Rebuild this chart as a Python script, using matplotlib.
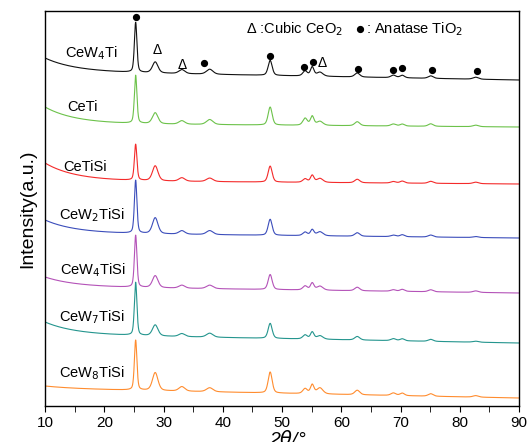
import numpy as np
import matplotlib
matplotlib.use("Agg")
import matplotlib.pyplot as plt

plt.rcParams['font.family'] = ['Liberation Sans', 'DejaVu Sans']

# 2theta grid of the scans
two_theta = np.arange(10, 90.001, 0.02)

# reflections (deg) and their widths (deg, FWHM)
peak_pos = [25.3, 28.6, 33.1, 37.8, 48.0, 53.9, 55.1, 56.4, 62.7, 68.8, 70.3, 75.1, 82.7]
peak_fwhm = [0.5, 1.1, 1.2, 1.3, 0.8, 0.9, 0.7, 1.2, 1.0, 1.0, 0.9, 1.0, 1.1]

samples = ["CeW$_4$Ti", "CeTi", "CeTiSi", "CeW$_2$TiSi", "CeW$_4$TiSi",
           "CeW$_7$TiSi", "CeW$_8$TiSi"]
colors = ["#111111", "#6cc24a", "#f42a2a", "#3b4dbb", "#b452b8",
          "#24958e", "#ff8c2e"]

# peak heights above background (a.u.) for each sample
heights = [
    [50, 11, 4, 5, 15, 5, 9, 4, 4, 2.5, 2.5, 2.5, 2],
    [48, 11, 3.5, 5, 18, 7, 9, 4, 4, 2, 2, 2.5, 1.5],
    [36, 15, 3.5, 3.5, 16, 3.5, 7, 4, 3.5, 1.5, 2, 2, 1.5],
    [53, 16, 3.5, 4, 16, 3.5, 6, 4, 3.5, 1.5, 2, 2, 1],
    [52, 12, 3, 3.5, 15, 4, 7, 4, 3.5, 1.5, 2, 2, 1.5],
    [53, 11, 3, 4, 15, 4, 7, 3.5, 3.5, 2, 2, 2, 1],
    [50, 18, 4.5, 4, 21, 5, 9, 6, 4.5, 2.5, 2.5, 2.5, 1.5],
]
# background level at 10 deg, 24 deg and 90 deg (offset traces)
bg_left = [348, 299, 243, 186, 129, 84, 20]
bg_mid = [334, 283, 226, 173, 119, 71, 16]
bg_right = [326, 279, 222, 168, 113, 63, 8]

# label positions (deg, a.u.)
label_x = [13.4, 13.7, 13.0, 12.3, 12.6, 12.3, 12.3]
label_y = [353, 299, 239, 191, 136, 89, 33]

# phase markers above the CeW4Ti trace
dot_x = [25.3, 36.9, 47.97, 53.7, 55.3, 62.8, 68.7, 70.3, 75.3, 82.9]
dot_y = [389, 343, 350, 339, 344, 337, 336, 338, 336, 335]
tri_x = [28.9, 33.1, 56.7]
tri_y = [356, 341, 343]


def trace(h, left, mid, right):
    # background: flat slope + decay at low angle
    e = np.exp(-14 / 5.0)
    s = (mid - right - e * (left - right)) / (66 - 80 * e)
    a = left - right - 80 * s
    y = right + s * (90 - two_theta) + a * np.exp(-(two_theta - 10) / 5.0)
    for p, w, hh in zip(peak_pos, peak_fwhm, h):
        g = np.exp(-4 * np.log(2) * ((two_theta - p) / w) ** 2)
        l = 1 / (1 + 4 * ((two_theta - p) / w) ** 2)
        y = y + hh * (0.6 * g + 0.4 * l)
    return y


fig = plt.figure(figsize=(5.27, 4.42), dpi=100)
ax = fig.add_axes([45 / 527, 36 / 442, 474 / 527, 395 / 442])

for i in range(len(samples)):
    ax.plot(two_theta, trace(heights[i], bg_left[i], bg_mid[i], bg_right[i]),
            color=colors[i], lw=0.8)
    ax.text(label_x[i], label_y[i], samples[i], fontsize=10.5, va='center')

ax.plot(dot_x, dot_y, 'o', color='black', ms=4.2)
for x, y in zip(tri_x, tri_y):
    ax.text(x, y, "Δ", fontsize=10, ha='center', va='center')

ax.text(0.425, 0.955, "Δ :Cubic CeO$_2$", transform=ax.transAxes,
        fontsize=10.5, va='center')
ax.plot([0.665], [0.955], 'o', color='black', ms=4.2, transform=ax.transAxes)
ax.text(0.677, 0.955, ": Anatase TiO$_2$", transform=ax.transAxes,
        fontsize=10.5, va='center')

ax.set_xlim(10, 90)
ax.set_ylim(0, 395)
ax.set_xticks(np.arange(10, 91, 10))
ax.set_xticks(np.arange(15, 90, 10), minor=True)
ax.tick_params(axis='x', which='both', direction='out', length=4, labelsize=11)
ax.set_yticks([])
ax.set_ylabel("Intensity(a.u.)", fontsize=14, labelpad=6)
for sp in ax.spines.values():
    sp.set_linewidth(1.0)

fig.text(288 / 527, 1 - 430 / 442, "2$\\theta$/°", fontsize=14, style='italic',
         ha='center', va='top')

fig.savefig("out.png", dpi=100)
